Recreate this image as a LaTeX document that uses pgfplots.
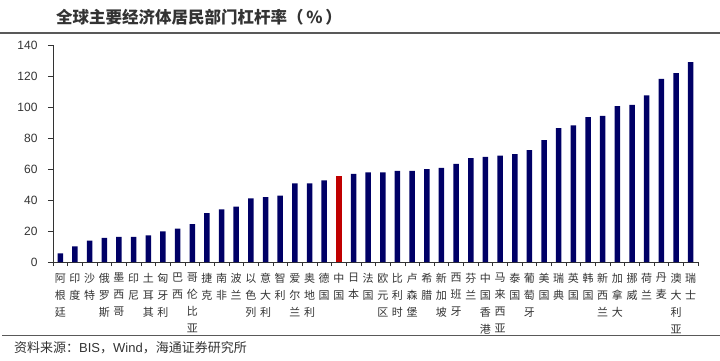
\documentclass[border=0pt]{standalone}
\usepackage{fontspec}
\setmainfont{Liberation Sans}
\newfontfamily\cjk{Noto Sans CJK SC}
\usepackage{pgfplots}
\pgfplotsset{compat=1.18}
\definecolor{barblue}{HTML}{000066}
\definecolor{barred}{HTML}{C00000}
\definecolor{txt}{HTML}{333333}
\begin{document}
\begin{tikzpicture}[x=1pt,y=1pt]
\path[use as bounding box] (0,0) rectangle (720,360);
\node[anchor=west, font=\fontsize{16.5}{18}\selectfont\cjk\bfseries, text=txt, inner sep=0pt] at (56,343) {全球主要经济体居民部门杠杆率（\,\%\,）};
\draw[line width=2pt, color=gray!70!black] (0,327) -- (720,327);
\draw[line width=1.5pt, color=gray!70!black] (2,24.3) -- (720,24.3);
\node[anchor=west, font=\fontsize{13}{15}\selectfont\cjk, text=txt, inner sep=0pt] at (14,12) {资料来源：{\fontspec{Liberation Sans}BIS}，{\fontspec{Liberation Sans}Wind}，海通证券研究所};
\begin{axis}[
  at={(53pt,98pt)}, anchor=south west,
  scale only axis, width=645pt, height=217pt,
  xmin=0.5, xmax=44.5, ymin=0, ymax=140,
  axis lines=left, axis line style={-, line width=0.8pt, color=black!80},
  ytick={0,20,...,140},
  xtick={1,...,44},
  minor xtick={0.5,1.5,...,44.5},
  tick align=outside,
  major x tick style={draw=none},
  minor x tick style={black!80, line width=0.6pt},
  minor tick length=4pt,
  major tick length=5pt,
  y tick style={black!80, line width=0.6pt},
  /pgf/number format/assume math mode=true,
  yticklabel style={font=\fontsize{12}{14}\selectfont, text=txt, xshift=-7pt},
  xticklabel style={font=\fontsize{11}{17}\selectfont\cjk, text=txt, align=center, inner sep=0pt, yshift=-6pt},
  xticklabels={{阿\\根\\廷},{印\\度},{沙\\特},{俄\\罗\\斯},{墨\\西\\哥},{印\\尼},{土\\耳\\其},{匈\\牙\\利},{巴\\西},{哥\\伦\\比\\亚},{捷\\克},{南\\非},{波\\兰},{以\\色\\列},{意\\大\\利},{智\\利},{爱\\尔\\兰},{奥\\地\\利},{德\\国},{中\\国},{日\\本},{法\\国},{欧\\元\\区},{比\\利\\时},{卢\\森\\堡},{希\\腊},{新\\加\\坡},{西\\班\\牙},{芬\\兰},{中\\国\\香\\港},{马\\来\\西\\亚},{泰\\国},{葡\\萄\\牙},{美\\国},{瑞\\典},{英\\国},{韩\\国},{新\\西\\兰},{加\\拿\\大},{挪\\威},{荷\\兰},{丹\\麦},{澳\\大\\利\\亚},{瑞\\士}},
  ybar, bar width=5.5pt, bar shift=0pt,
  clip=false,
]
\addplot[fill=barblue, draw=none] coordinates {
(1,5.6) (2,10.1) (3,13.8) (4,15.5) (5,16.2) (6,16.2) (7,17.2) (8,19.8) (9,21.6) (10,24.4)
(11,31.5) (12,34.0) (13,35.8) (14,41.1) (15,41.8) (16,42.9) (17,50.8) (18,50.8) (19,52.6)
(21,56.9) (22,57.9) (23,57.9) (24,58.8) (25,58.8) (26,59.9) (27,60.7) (28,63.3) (29,67.0) (30,67.8)
(31,68.7) (32,69.6) (33,72.1) (34,78.6) (35,86.3) (36,88.1) (37,93.5) (38,94.3) (39,100.6) (40,101.4)
(41,107.5) (42,118.2) (43,121.9) (44,129.0)
};
\addplot[fill=barred, draw=none] coordinates {(20,55.6)};
\end{axis}
\end{tikzpicture}
\end{document}
